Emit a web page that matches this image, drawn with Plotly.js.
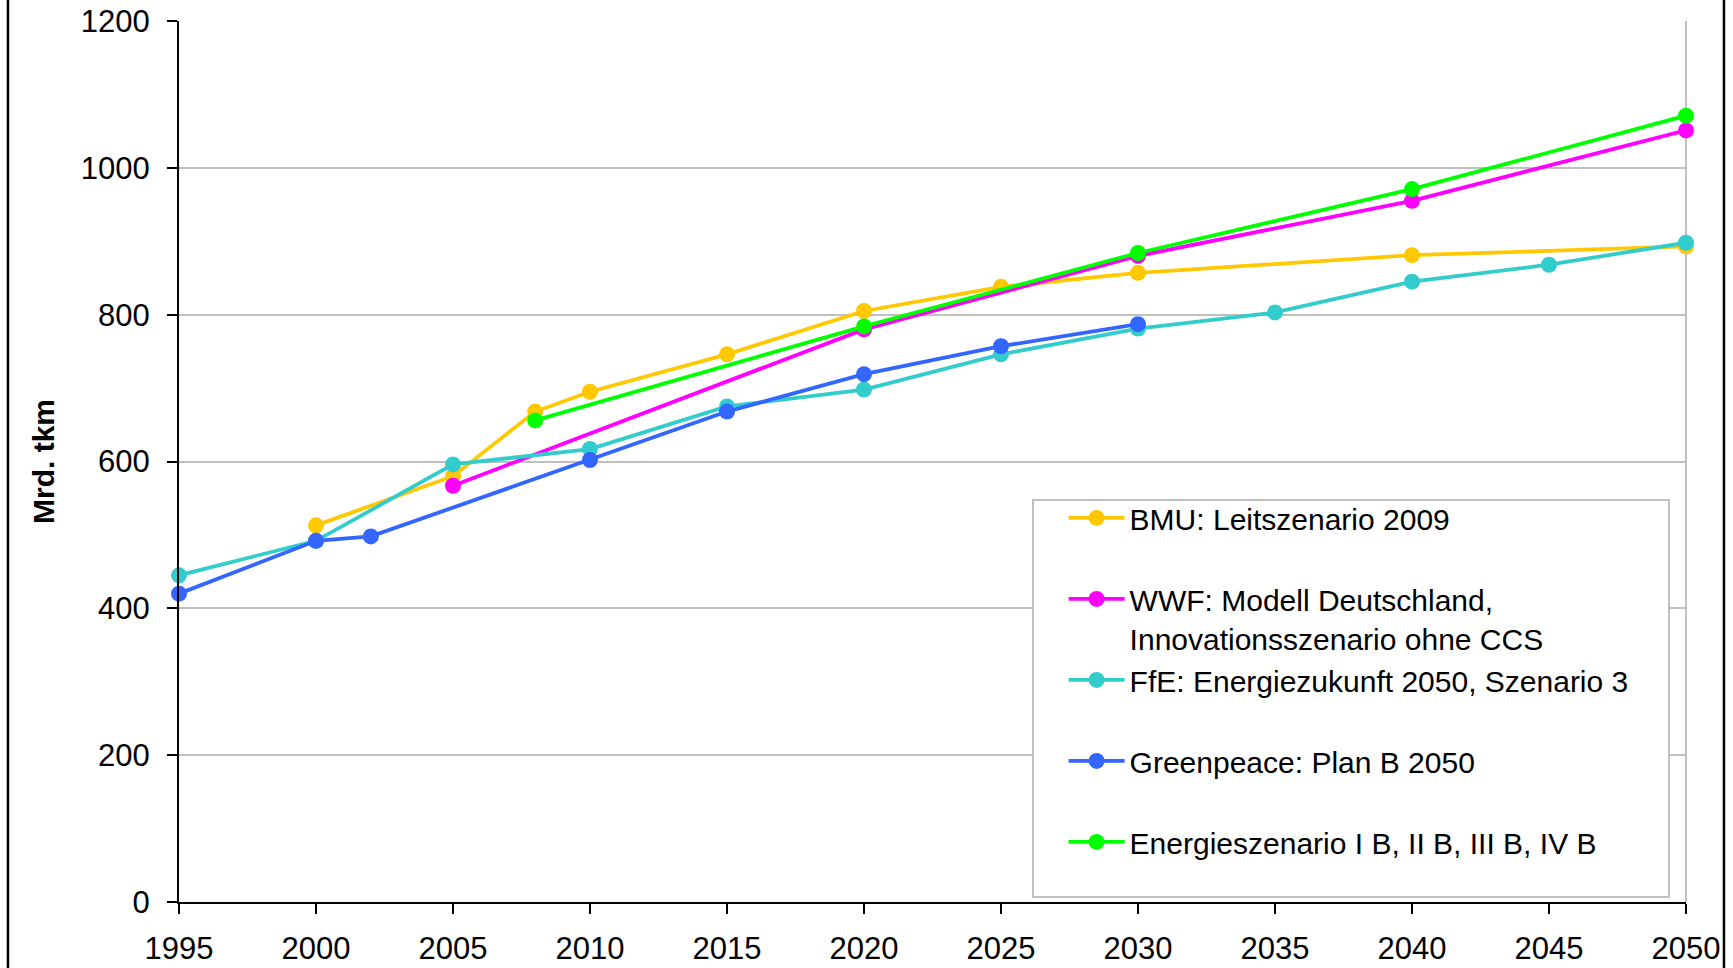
<!DOCTYPE html>
<html>
<head>
<meta charset="utf-8">
<script src="https://cdn.plot.ly/plotly-3.0.1.min.js"></script>
<style>
  html, body { margin: 0; padding: 0; background: #ffffff; }
  #chart { width: 1733px; height: 968px; }
</style>
</head>
<body>
<div id="chart"></div>
<script>
// ---- Data ----
var bmuYears = [2000, 2005, 2008, 2010, 2015, 2020, 2025, 2030, 2040, 2050];
var bmuValues = [513, 580, 668, 695, 746, 805, 838, 857, 881, 893];

var wwfYears = [2005, 2020, 2030, 2040, 2050];
var wwfValues = [567, 780, 880, 955, 1051];

var ffeYears = [1995, 2000, 2005, 2010, 2015, 2020, 2025, 2030, 2035, 2040, 2045, 2050];
var ffeValues = [445, 492, 596, 617, 675, 698, 746, 781, 803, 845, 868, 898];

var gpYears = [1995, 2000, 2002, 2010, 2015, 2020, 2025, 2030];
var gpValues = [420, 492, 498, 602, 668, 719, 757, 787];

var esYears = [2008, 2020, 2030, 2040, 2050];
var esValues = [656, 784, 884, 971, 1071];

var seriesNames = [
  "BMU: Leitszenario 2009",
  "WWF: Modell Deutschland,<br>Innovationsszenario ohne CCS",
  "FfE: Energiezukunft 2050, Szenario 3",
  "Greenpeace: Plan B 2050",
  "Energieszenario I B, II B, III B, IV B"
];
var seriesColors = ["#FFC800", "#FF00FF", "#33CCCC", "#3366FF", "#00FF00"];

var xTicks = [1995, 2000, 2005, 2010, 2015, 2020, 2025, 2030, 2035, 2040, 2045, 2050];
var yTicks = [0, 200, 400, 600, 800, 1000, 1200];

var FONT = "Liberation Sans, Arial, sans-serif";

function mk(xs, ys, i) {
  var label = seriesNames[i];
  if (label.indexOf("<br>") < 0) label = label + "<br> ";
  return {
    type: "scatter",
    mode: "lines+markers",
    x: xs, y: ys,
    name: label,
    line: { color: seriesColors[i], width: 3.8 },
    marker: { color: seriesColors[i], size: 16 },
    cliponaxis: false
  };
}

var traces = [
  mk(bmuYears, bmuValues, 0),
  mk(wwfYears, wwfValues, 1),
  mk(ffeYears, ffeValues, 2),
  mk(gpYears, gpValues, 3),
  mk(esYears, esValues, 4)
];

var layout = {
  width: 1733, height: 968,
  margin: { l: 179, r: 47, t: 21, b: 66 },
  paper_bgcolor: "#ffffff",
  plot_bgcolor: "#ffffff",
  font: { family: FONT, size: 31, color: "#000000" },
  showlegend: true,
  legend: {
    x: 0.587, y: 0.4655, xanchor: "left", yanchor: "top",
    bgcolor: "rgba(0,0,0,0)", borderwidth: 0,
    itemwidth: 56, valign: "top",
    font: { family: FONT, size: 30, color: "#000000" },
    traceorder: "normal"
  },
  xaxis: {
    range: [1995, 2050],
    tickvals: xTicks,
    ticktext: xTicks.map(String),
    showgrid: false, zeroline: false,
    showline: true, linecolor: "#000000", linewidth: 2,
    ticks: "outside", ticklen: 10, tickwidth: 2, tickcolor: "#000000",
    ticklabelstandoff: 8,
    tickfont: { family: FONT, size: 31, color: "#000000" },
    fixedrange: true
  },
  yaxis: {
    range: [0, 1200],
    tickvals: yTicks,
    ticktext: yTicks.map(String),
    showgrid: true, gridcolor: "#C0C0C0", gridwidth: 2,
    zeroline: false,
    showline: true, linecolor: "#000000", linewidth: 2,
    ticks: "outside", ticklen: 10, tickwidth: 2, tickcolor: "#000000",
    ticklabelstandoff: 11,
    tickfont: { family: FONT, size: 31, color: "#000000" },
    title: { text: "<b>Mrd. tkm</b>", font: { family: FONT, size: 30, color: "#000000" }, standoff: 17 },
    automargin: false,
    fixedrange: true
  },
  shapes: [
    { type: "line", xref: "paper", yref: "paper", x0: 1, x1: 1, y0: 0, y1: 1,
      line: { color: "#C0C0C0", width: 2 }, layer: "below" },
    { type: "rect", xref: "paper", yref: "paper", x0: 0.5667, x1: 0.9887, y0: 0.0057, y1: 0.4563,
      line: { color: "#C0C0C0", width: 2 }, fillcolor: "#ffffff", layer: "above" },
    { type: "line", xref: "paper", yref: "paper", x0: -0.1135, x1: -0.1135, y0: -0.2, y1: 1.2,
      line: { color: "#000000", width: 2.5 }, layer: "above" },
    { type: "line", xref: "paper", yref: "paper", x0: 1.0252, x1: 1.0252, y0: -0.2, y1: 1.2,
      line: { color: "#000000", width: 2.5 }, layer: "above" }
  ]
};

Plotly.newPlot("chart", traces, layout, { displayModeBar: false, staticPlot: true });
</script>
</body>
</html>
